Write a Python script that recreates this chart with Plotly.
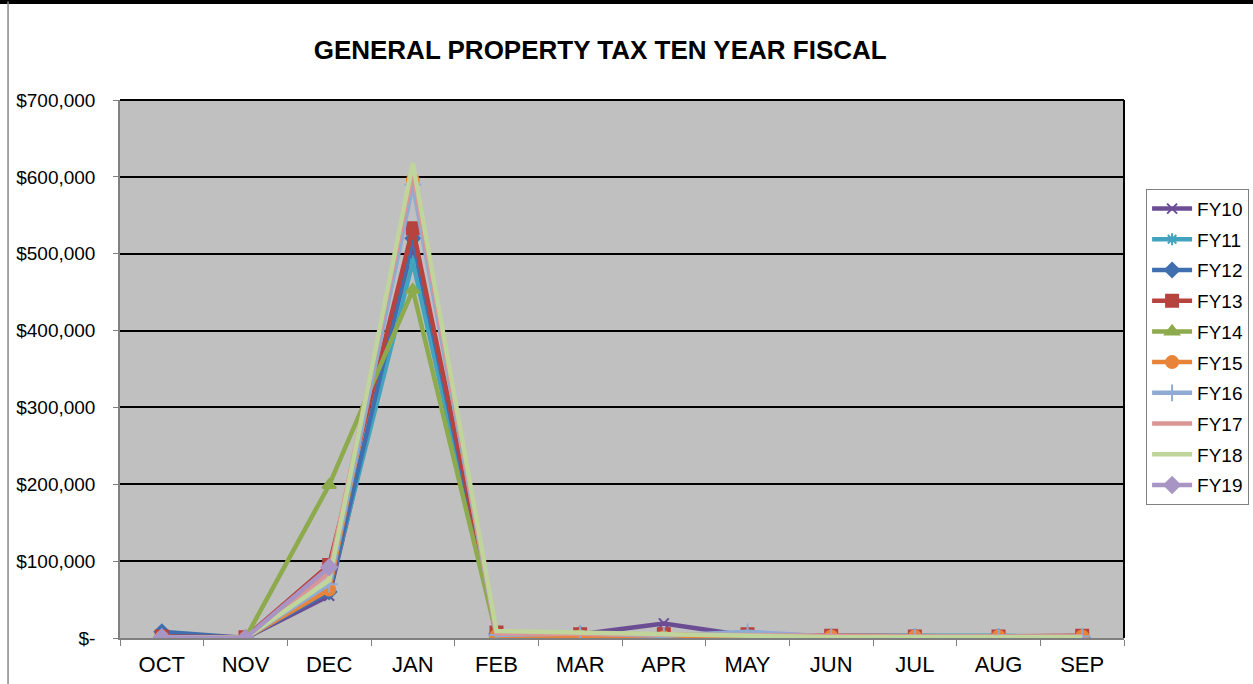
import plotly.graph_objects as go

months = ["OCT", "NOV", "DEC", "JAN", "FEB", "MAR", "APR", "MAY", "JUN", "JUL", "AUG", "SEP"]

fy10 = [1000, 0, 55000, 512000, 5000, 5000, 19000, 3000, 2000, 2000, 2000, 1000]
fy11 = [1000, 0, 62000, 490000, 5000, 6000, 3000, 3000, 3000, 3000, 3000, 1000]
fy12 = [8000, 0, 60000, 520000, 5000, 5000, 3000, 3000, 2000, 2000, 2000, 1000]
fy13 = [2000, 1000, 95000, 533000, 7000, 5000, 5000, 5000, 3000, 2000, 2000, 3000]
fy14 = [0, 0, 199000, 453000, 4000, 3000, 2000, 2000, 1000, 1000, 1000, 1000]
fy15 = [1000, 0, 63000, 596000, 3000, 2000, 1000, 1000, 2000, 2000, 2000, 2000]
fy16 = [1000, 0, 70000, 590000, 4000, 6000, 3000, 8000, 2000, 2000, 2000, 2000]
fy17 = [1000, 0, 85000, 605000, 6000, 5000, 5000, 4000, 2000, 2000, 2000, 2000]
fy18 = [1000, 0, 75000, 618000, 9000, 7000, 4000, 3000, 1000, 1000, 1000, 1000]
fy19 = [1000, 0, 92000, None, None, None, None, None, None, None, None, None]

series = [
    ("FY10", fy10, "#6A4D93", "x-thin-open", 10),
    ("FY11", fy11, "#43A3BE", "asterisk-open", 10),
    ("FY12", fy12, "#3F6FAE", "diamond", 11),
    ("FY13", fy13, "#B7433F", "square", 12),
    ("FY14", fy14, "#8DAA4D", "triangle-up", 12),
    ("FY15", fy15, "#E8843A", "circle", 12),
    ("FY16", fy16, "#8FABD4", "cross-thin-open", 12),
    ("FY17", fy17, "#D99694", None, 0),
    ("FY18", fy18, "#BFD59B", None, 0),
    ("FY19", fy19, "#A895C3", "diamond", 12),
]

fig = go.Figure()
for name, vals, color, sym, size in series:
    if sym:
        marker = dict(symbol=sym, size=size, color=color,
                      line=dict(color=color, width=2))
        mode = "lines+markers"
    else:
        marker = dict(size=1, color=color)
        mode = "lines"
    fig.add_trace(go.Scatter(
        x=months, y=vals, name=name, mode=mode, legendgroup=name,
        line=dict(color=color, width=4.5),
        marker=marker, connectgaps=False,
    ))

fig.update_layout(
    width=1253, height=684,
    margin=dict(l=120, r=129, t=100, b=46, autoexpand=False),
    paper_bgcolor="white",
    plot_bgcolor="#C0C0C0",
    font=dict(family="Liberation Sans, Arial, sans-serif", size=20, color="black"),
    title=dict(text="<b>GENERAL PROPERTY TAX TEN YEAR FISCAL</b>",
               x=0.479, xanchor="center", y=0.927, yanchor="middle",
               font=dict(size=26, color="black")),
    showlegend=True,
    legend=dict(x=1.022, xanchor="left", y=0.835, yanchor="top",
                bordercolor="#808080", borderwidth=1, bgcolor="white",
                font=dict(size=19), tracegroupgap=3, itemwidth=40),
    xaxis=dict(
        type="category", showgrid=False, range=[-0.5, 11.5],
        categoryorder="array", categoryarray=months,
        showline=True, linecolor="#808080", linewidth=1.5,
        ticks="outside", tickson="boundaries", ticklen=6, tickcolor="#808080",
        ticklabelstandoff=6,
        mirror=False, tickfont=dict(size=22),
    ),
    yaxis=dict(
        range=[0, 700000],
        tickvals=[0, 100000, 200000, 300000, 400000, 500000, 600000, 700000],
        ticktext=["$-", "$100,000", "$200,000", "$300,000", "$400,000",
                  "$500,000", "$600,000", "$700,000"],
        showgrid=True, gridcolor="black", gridwidth=1.5,
        showline=True, linecolor="#808080", linewidth=1.5,
        ticks="outside", ticklen=5, tickcolor="#808080",
        ticklabelstandoff=14,
        zeroline=False, tickfont=dict(size=19),
    ),
)

# plot area border on top and right (black)
fig.add_shape(type="line", xref="paper", yref="paper", x0=0, x1=1, y0=1, y1=1,
              line=dict(color="black", width=2))
fig.add_shape(type="line", xref="paper", yref="paper", x0=1, x1=1, y0=0, y1=1,
              line=dict(color="black", width=2))
# outer page decorations: top black bar and left gray line
fig.add_shape(type="line", xref="paper", yref="paper",
              x0=-0.12, x1=1.13, y0=1.183, y1=1.183,
              line=dict(color="black", width=5))
fig.add_shape(type="line", xref="paper", yref="paper",
              x0=-0.1115, x1=-0.1115, y0=-0.09, y1=1.183,
              line=dict(color="#888888", width=1.5))

fig.write_html("out.html",
               config={"displayModeBar": False},
               post_script="document.body.style.margin='0';document.body.style.padding='0';")
